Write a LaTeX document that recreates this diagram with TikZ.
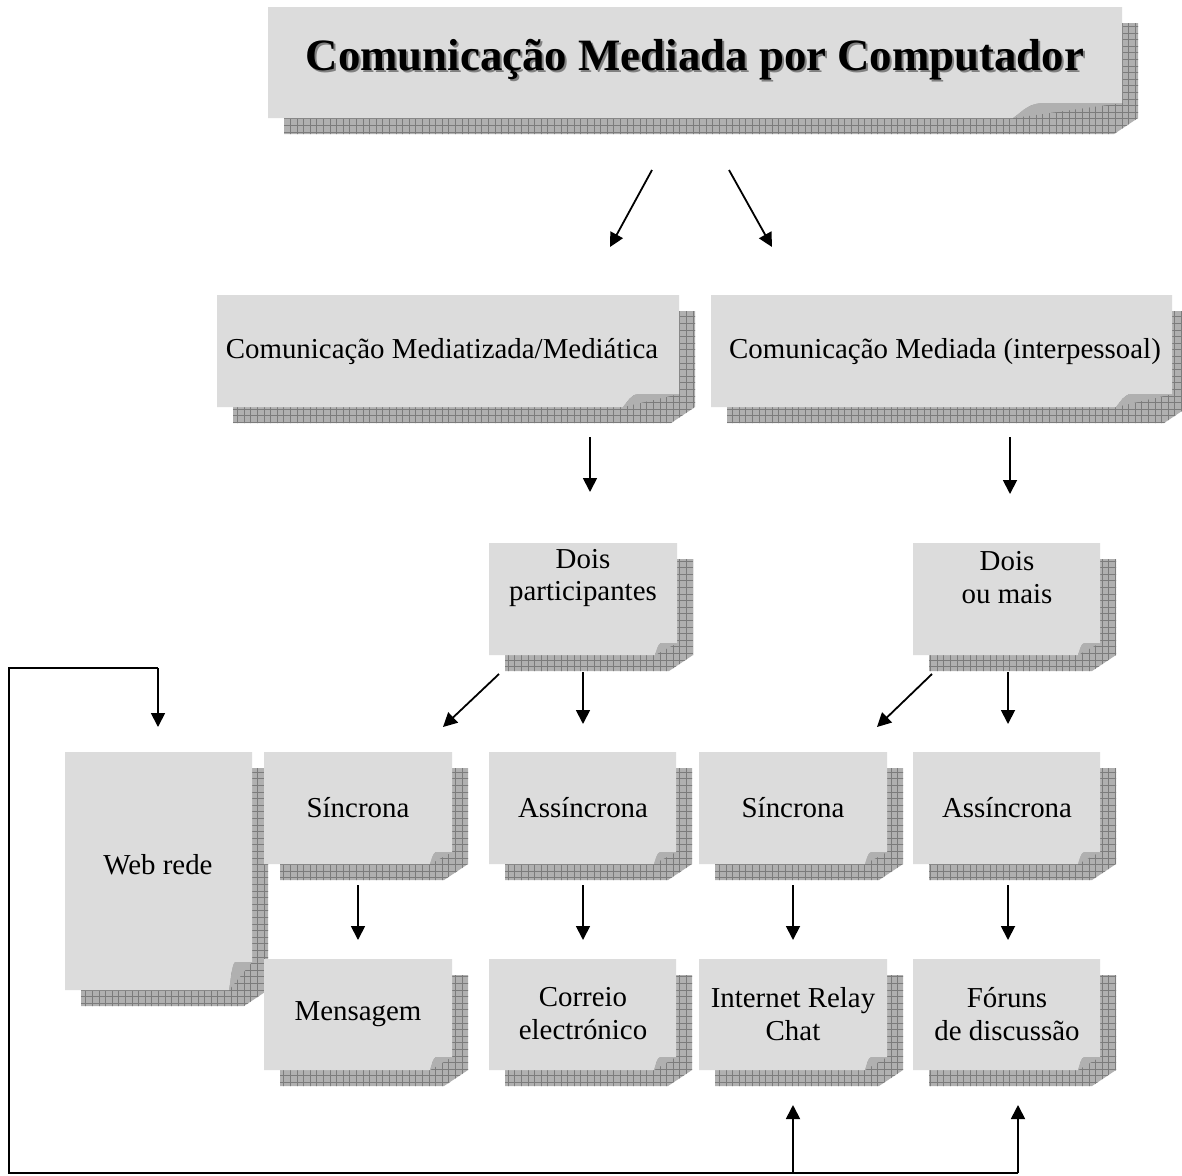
\documentclass[tikz,border=0pt]{standalone}
\usepackage{fontspec}
\setmainfont{Liberation Serif}
\usetikzlibrary{arrows.meta}

\definecolor{paper}{HTML}{DCDCDC}
\definecolor{foldgray}{HTML}{B0B0B0}
\definecolor{shadefill}{HTML}{B0B0B0}
\definecolor{gridgray}{HTML}{7C7C7C}

\tikzset{
  arr/.style={line width=1.8bp, -{Triangle[length=14bp,width=14bp]}},
  link/.style={line width=1.6bp},
  boxtext/.style={font=\fontsize{29}{33}\selectfont, align=center, inner sep=0pt},
  titletext/.style={font=\fontsize{45}{50}\selectfont\bfseries, inner sep=0pt},
}

% sheet of paper with a curled corner and a gridded drop shadow
% #1,#2 = top left, #3,#4 = bottom right, #5 = curl width, #6 = curl height
\newcommand\papershape[6]{%
  \fill[shadefill] ({#1+16},{#2+16}) -- ({#3+16},{#2+16}) -- ({#3+16},{#4}) -- ({#3-8},{#4+16}) -- ({#1+16},{#4+16}) -- cycle;
  \begin{scope}
    \clip ({#1+16},{#2+16}) -- ({#3+16},{#2+16}) -- ({#3+16},{#4}) -- ({#3-8},{#4+16}) -- ({#1+16},{#4+16}) -- cycle;
    \draw[gridgray, line width=0.7bp, step=6.6bp] (#1,#2) grid ({#3+20},{#4+20});
  \end{scope}
  \fill[paper] (#1,#2) -- (#3,#2) -- (#3,{#4-#6}) -- ({#3-0.72*#5},{#4-#6})
     .. controls ({#3-0.86*#5},{#4-#6}) and ({#3-0.92*#5},{#4-0.4*#6}) .. ({#3-#5},#4) -- (#1,#4) -- cycle;
  \fill[foldgray] ({#3-#5},#4) .. controls ({#3-0.92*#5},{#4-0.4*#6}) and ({#3-0.86*#5},{#4-#6}) .. ({#3-0.72*#5},{#4-#6}) -- (#3,{#4-#6}) -- cycle;
}

\begin{document}
\begin{tikzpicture}[x=1bp, y=-1bp]
\fill[white] (0,0) rectangle (1182,1176);
\useasboundingbox (0,0) rectangle (1182,1176);

% title
\papershape{268}{7}{1122}{118}{109}{15}
\node[titletext, text=gray] (titleshade) at (697,62) {Comunicação Mediada por Computador};
\node[titletext] (title) at (695,60) {Comunicação Mediada por Computador};

% second level
\papershape{217}{295}{679}{407}{56}{13}
\node[boxtext] (medA) at (442,352) {Comunicação Mediatizada/Mediática};
\papershape{711}{295}{1172}{407}{56}{13}
\node[boxtext] (medB) at (945,352) {Comunicação Mediada (interpessoal)};

% third level
\papershape{489}{543}{677}{655}{22}{12}
\node[boxtext] (dois1) at (583,578) {Dois\\participantes};
\papershape{913}{543}{1100}{655}{22}{12}
\node[boxtext] (dois2) at (1007,578) {Dois\\ou mais};

% fourth level
\papershape{65}{752}{252}{990}{23}{28}
\node[boxtext] (web) at (158,865) {Web rede};
\papershape{264}{752}{452}{864}{22}{12}
\node[boxtext] (sin1) at (358,808) {Síncrona};
\papershape{489}{752}{676}{864}{22}{12}
\node[boxtext] (ass1) at (583,808) {Assíncrona};
\papershape{699}{752}{887}{864}{22}{12}
\node[boxtext] (sin2) at (793,808) {Síncrona};
\papershape{913}{752}{1100}{864}{22}{12}
\node[boxtext] (ass2) at (1007,808) {Assíncrona};

% fifth level
\papershape{264}{959}{452}{1070}{22}{13}
\node[boxtext] (msg) at (358,1014) {Mensagem};
\papershape{489}{959}{676}{1070}{22}{13}
\node[boxtext] (mail) at (583,1014) {Correio\\electrónico};
\papershape{699}{959}{887}{1070}{22}{13}
\node[boxtext] (irc) at (793,1014) {Internet Relay\\Chat};
\papershape{913}{959}{1100}{1070}{22}{13}
\node[boxtext] (forum) at (1007,1014) {Fóruns\\de discussão};

% arrow end points
\coordinate (t1s) at (652,170); \coordinate (t1e) at (610,247);
\coordinate (t2s) at (729,170); \coordinate (t2e) at (772,247);
\coordinate (a1s) at (590,437); \coordinate (a1e) at (590,492);
\coordinate (a2s) at (1010,437); \coordinate (a2e) at (1010,494);
\coordinate (b1s) at (499,674); \coordinate (b1e) at (443,727);
\coordinate (b2s) at (583,672); \coordinate (b2e) at (583,724);
\coordinate (b3s) at (932,674); \coordinate (b3e) at (877,727);
\coordinate (b4s) at (1008,672); \coordinate (b4e) at (1008,724);
\coordinate (c1s) at (358,885); \coordinate (c1e) at (358,940);
\coordinate (c2s) at (583,885); \coordinate (c2e) at (583,940);
\coordinate (c3s) at (793,885); \coordinate (c3e) at (793,940);
\coordinate (c4s) at (1008,885); \coordinate (c4e) at (1008,940);
\coordinate (loopA) at (9,1173); \coordinate (loopB) at (9,668);
\coordinate (loopC) at (158,668); \coordinate (loopD) at (158,727);
\coordinate (upA) at (793,1173); \coordinate (upAe) at (793,1105);
\coordinate (upB) at (1018,1173); \coordinate (upBe) at (1018,1105);

\draw[arr] (t1s) -- (t1e);
\draw[arr] (t2s) -- (t2e);
\draw[arr] (a1s) -- (a1e);
\draw[arr] (a2s) -- (a2e);
\draw[arr] (b1s) -- (b1e);
\draw[arr] (b2s) -- (b2e);
\draw[arr] (b3s) -- (b3e);
\draw[arr] (b4s) -- (b4e);
\draw[arr] (c1s) -- (c1e);
\draw[arr] (c2s) -- (c2e);
\draw[arr] (c3s) -- (c3e);
\draw[arr] (c4s) -- (c4e);

% feedback loop along the bottom and left edge
\draw[link] (upB) -- (loopA) -- (loopB) -- (loopC);
\draw[arr] (loopC) -- (loopD);
\draw[arr] (upA) -- (upAe);
\draw[arr] (upB) -- (upBe);
\end{tikzpicture}
\end{document}
